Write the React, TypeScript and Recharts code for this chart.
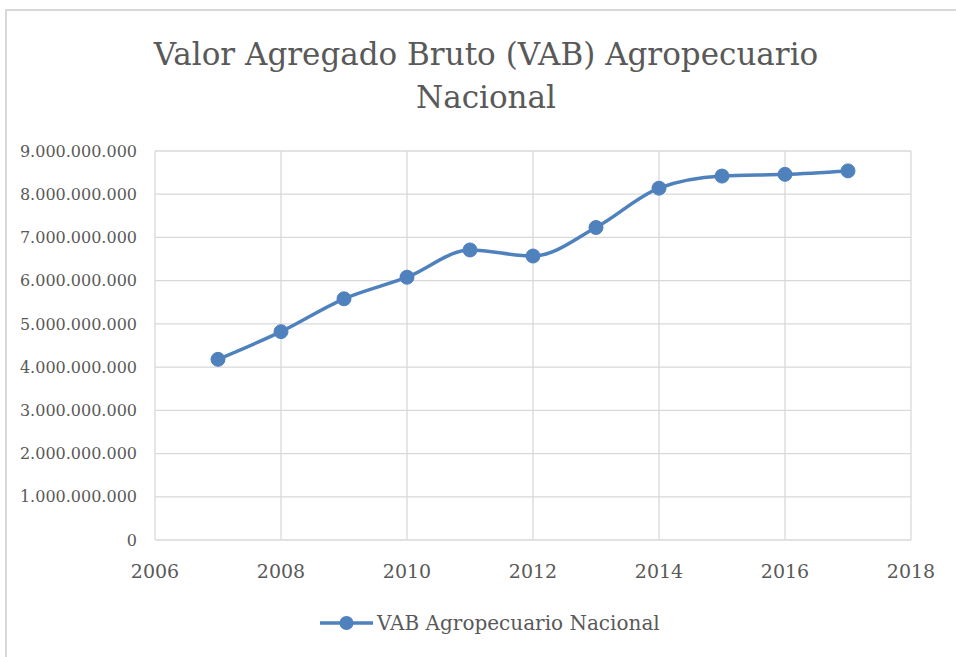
import { LineChart, Line, XAxis, YAxis, CartesianGrid, Legend } from 'recharts';

const years = [2007, 2008, 2009, 2010, 2011, 2012, 2013, 2014, 2015, 2016, 2017];
const vabValues = [
  4180000000, 4820000000, 5580000000, 6080000000, 6710000000, 6570000000,
  7230000000, 8140000000, 8420000000, 8460000000, 8540000000,
];
const xTicks = [2006, 2008, 2010, 2012, 2014, 2016, 2018];
const yTicks = [0, 1e9, 2e9, 3e9, 4e9, 5e9, 6e9, 7e9, 8e9, 9e9];
const seriesName = 'VAB Agropecuario Nacional';
const titleLines = ['Valor Agregado Bruto (VAB) Agropecuario', 'Nacional'];

const data = years.map((year, i) => ({ year, vab: vabValues[i] }));

const FONT = '"DejaVu Serif", serif';
const TEXT = '#595959';
const BLUE = '#4f81bd';
const GRID = '#d9d9d9';

// miles con punto: 9.000.000.000
const formatMiles = (v: number) => String(v).replace(/\B(?=(\d{3})+(?!\d))/g, '.');

const renderLegend = (props: any) => {
  const item = props.payload && props.payload[0];
  const label = item ? item.value : seriesName;
  return (
    <svg width={360} height={30}>
      <line x1={2} y1={15} x2={55} y2={15} stroke={BLUE} strokeWidth={3.5} />
      <circle cx={28.5} cy={15} r={7} fill={BLUE} />
      <text x={59} y={22} fontFamily={FONT} fontSize={20} fill={TEXT}>
        {label}
      </text>
    </svg>
  );
};

export default function App() {
  return (
    <div
      style={{
        position: 'absolute',
        left: 0,
        top: 0,
        width: 956,
        height: 657,
        overflow: 'hidden',
        background: '#fff',
      }}
    >
      <div
        style={{
          position: 'absolute',
          left: 5,
          top: 9,
          width: 1000,
          height: 700,
          border: `2px solid ${GRID}`,
        }}
      />
      <div style={{ position: 'absolute', left: 0, top: 0 }}>
        <LineChart
          width={956}
          height={657}
          data={data}
          margin={{ top: 151, right: 45, bottom: 77, left: 0 }}
        >
          <CartesianGrid stroke={GRID} strokeWidth={1.3} />
          <XAxis
            dataKey="year"
            type="number"
            domain={[2006, 2018]}
            ticks={xTicks}
            height={40}
            axisLine={false}
            tickLine={false}
            tickSize={0}
            tickMargin={25}
            tick={{ fill: TEXT, fontFamily: FONT, fontSize: 19 }}
          />
          <YAxis
            type="number"
            domain={[0, 9e9]}
            ticks={yTicks}
            width={155}
            axisLine={false}
            tickLine={false}
            tickSize={0}
            tickMargin={18}
            tickFormatter={formatMiles}
            tick={{ fill: TEXT, fontFamily: FONT, fontSize: 16 }}
          />
          <Legend
            layout="horizontal"
            verticalAlign="middle"
            align="center"
            content={renderLegend}
            wrapperStyle={{ left: 318, top: 608, width: 360, height: 30 }}
          />
          <Line
            name={seriesName}
            dataKey="vab"
            type="monotone"
            stroke={BLUE}
            strokeWidth={3.5}
            dot={{ r: 7, fill: BLUE, stroke: BLUE, strokeWidth: 1 }}
            activeDot={false}
            isAnimationActive={false}
          />
        </LineChart>
      </div>
      <svg
        width={956}
        height={130}
        style={{ position: 'absolute', left: 0, top: 0, pointerEvents: 'none' }}
      >
        <text x={486} y={65} textAnchor="middle" fontFamily={FONT} fontSize={31} fill={TEXT}>
          {titleLines[0]}
        </text>
        <text x={486} y={108} textAnchor="middle" fontFamily={FONT} fontSize={31} fill={TEXT}>
          {titleLines[1]}
        </text>
      </svg>
    </div>
  );
}
